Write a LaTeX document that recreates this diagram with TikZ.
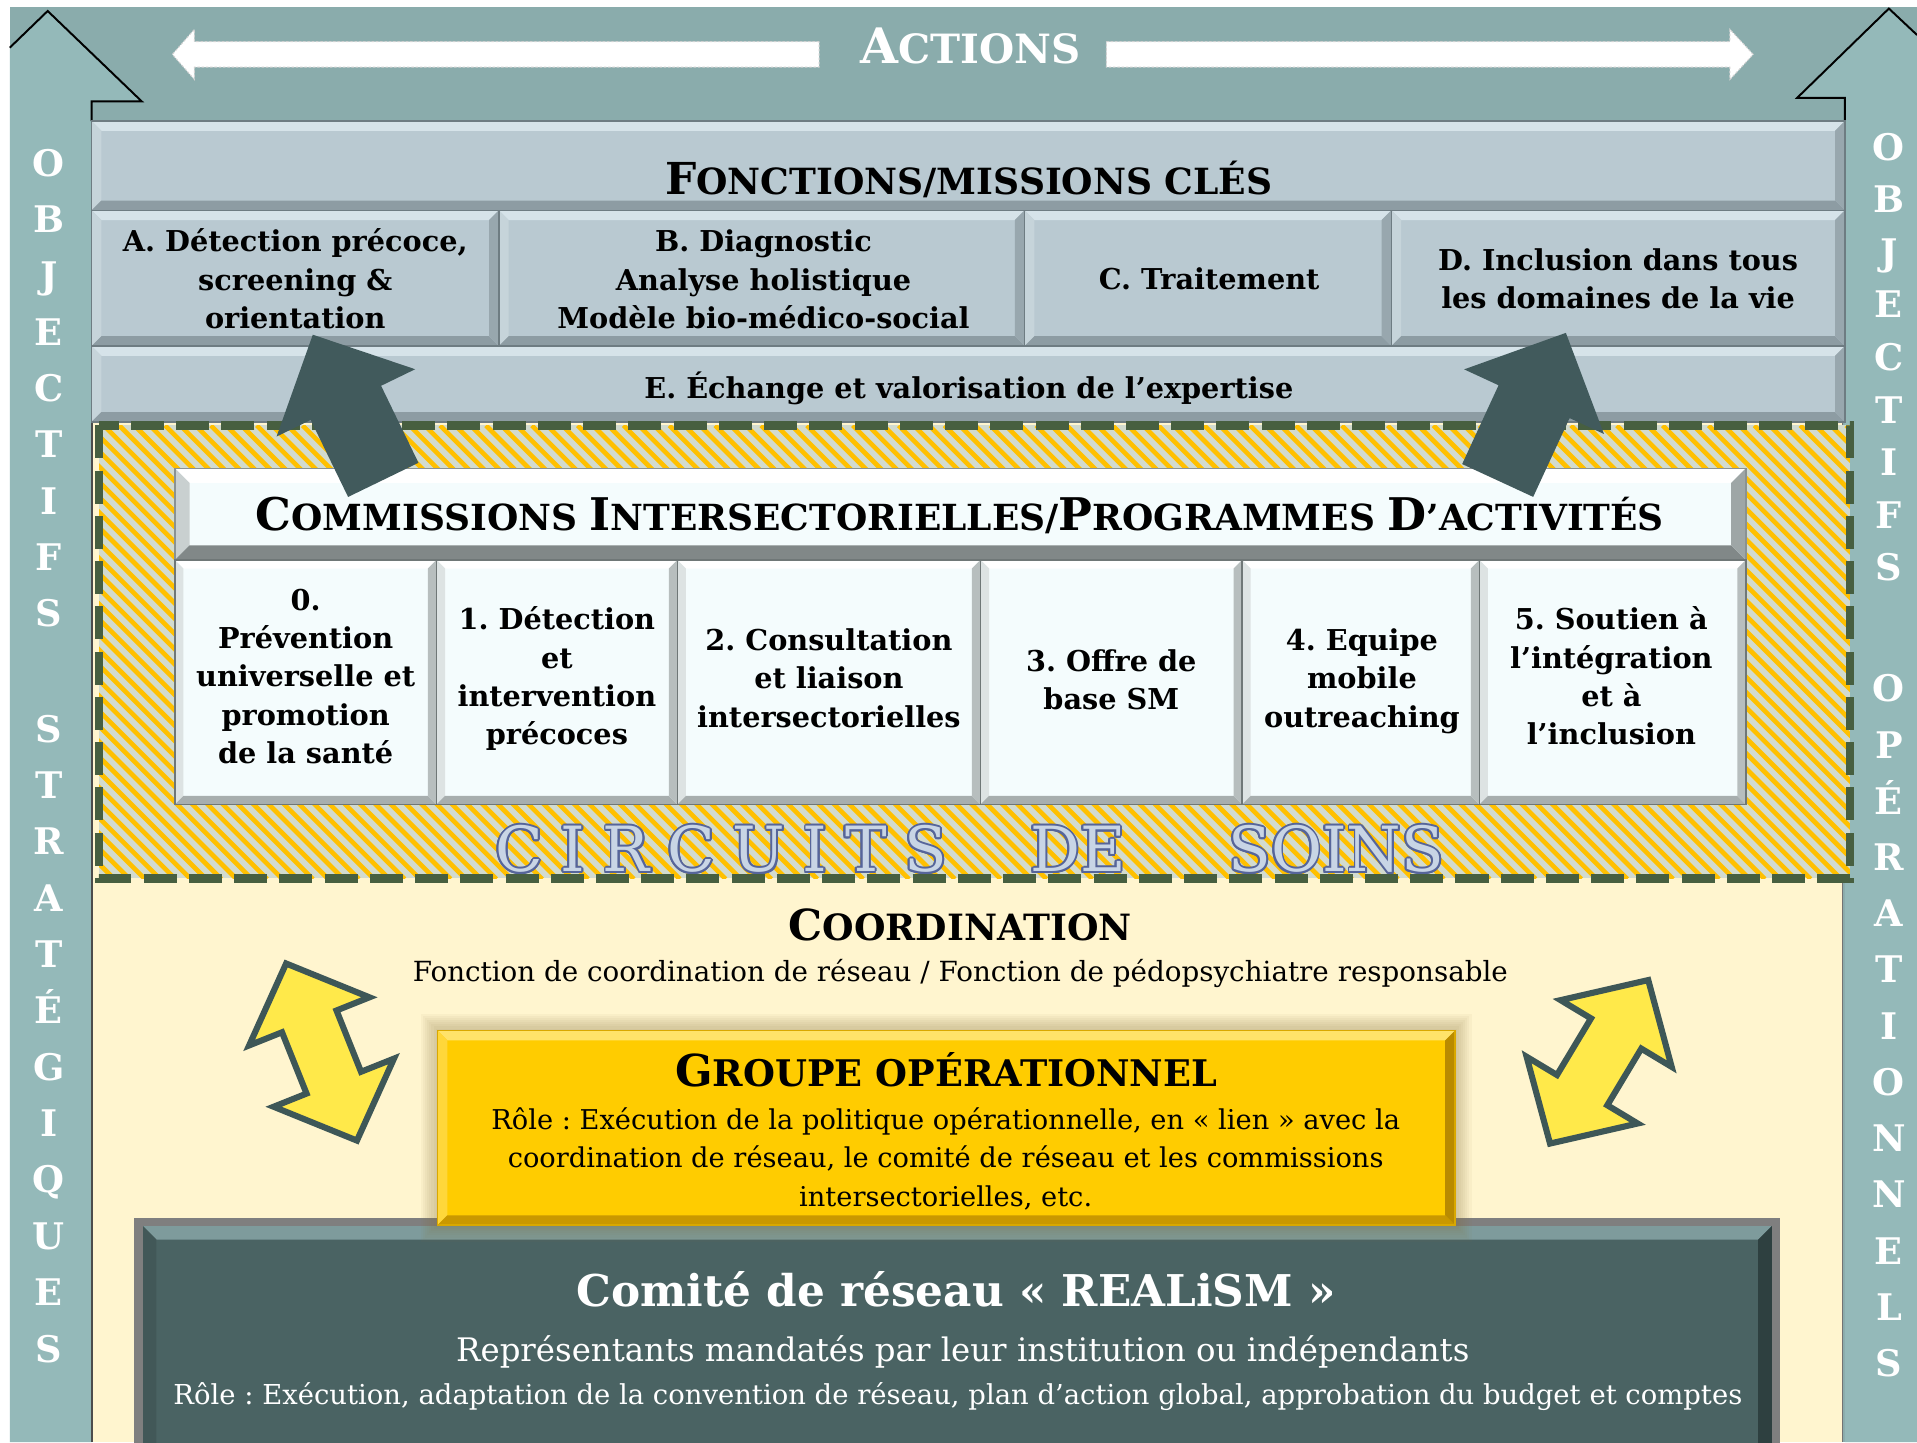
\documentclass[tikz,border=0pt]{standalone}
\usepackage{fontspec}
\setmainfont{DejaVu Serif}
\usepackage{contour}
\contourlength{1.5pt}
\usetikzlibrary{calc}
\frenchspacing

\definecolor{bandteal}{HTML}{8AACAC}
\definecolor{colteal}{HTML}{94B9B9}
\definecolor{fnbase}{HTML}{B9C9D1}
\definecolor{fntop}{HTML}{D6E3E9}
\definecolor{fnleft}{HTML}{C6D4DA}
\definecolor{fnbot}{HTML}{8D9CA3}
\definecolor{fnright}{HTML}{98A7AE}
\definecolor{fnedge}{HTML}{6E7C82}
\definecolor{chbase}{HTML}{F4FCFD}
\definecolor{chtop}{HTML}{FFFFFF}
\definecolor{chleft}{HTML}{C9D0D0}
\definecolor{chbot}{HTML}{818888}
\definecolor{chright}{HTML}{9EA6A6}
\definecolor{chedge}{HTML}{8A9292}
\definecolor{ccbase}{HTML}{F4FCFD}
\definecolor{cctop}{HTML}{FFFFFF}
\definecolor{ccleft}{HTML}{DDE3E3}
\definecolor{ccbot}{HTML}{A7AEAE}
\definecolor{ccright}{HTML}{B7BEBE}
\definecolor{ccedge}{HTML}{6F7777}
\definecolor{gdbase}{HTML}{FFCC00}
\definecolor{gdtop}{HTML}{FFE36A}
\definecolor{gdleft}{HTML}{FFD73A}
\definecolor{gdbot}{HTML}{C99800}
\definecolor{gdright}{HTML}{B98B00}
\definecolor{gdedge}{HTML}{D9A800}
\definecolor{cmbase}{HTML}{4A6363}
\definecolor{cmtop}{HTML}{7E9B9C}
\definecolor{cmleft}{HTML}{425858}
\definecolor{cmbot}{HTML}{344747}
\definecolor{cmright}{HTML}{2E4040}
\definecolor{cmedge}{HTML}{7F7F7F}
\definecolor{cream}{HTML}{FFF5CF}
\definecolor{stripeg}{HTML}{D2DBCF}
\definecolor{stripey}{HTML}{FFC000}
\definecolor{dashg}{HTML}{475F40}
\definecolor{darrow}{HTML}{415A5C}
\definecolor{yarrow}{HTML}{FFE94A}
\definecolor{yedge}{HTML}{3E5757}
\definecolor{circfill}{HTML}{C8D5E5}
\definecolor{circline}{HTML}{56659A}
\definecolor{shadowc}{HTML}{8A7440}

\newcommand\fsz[2]{\fontsize{#1}{#2}\selectfont}
\newcommand\scap[4]{{\fsz{#1}{#1}#2}{\fsz{#3}{#3}#4}}
\newcommand\mlines[1]{\begin{tabular}[t]{@{}c@{}}#1\end{tabular}}
\newcommand\lsp{\kern14.4pt }
\newcommand\bvbox[6]{%
 \fill[#6base] (#1,#2) rectangle (#3,#4);
 \fill[#6top] (#1,#2) -- (#3,#2) -- ({#3-#5},{#2+#5}) -- ({#1+#5},{#2+#5}) -- cycle;
 \fill[#6left] (#1,#2) -- ({#1+#5},{#2+#5}) -- ({#1+#5},{#4-#5}) -- (#1,#4) -- cycle;
 \fill[#6bot] (#1,#4) -- ({#1+#5},{#4-#5}) -- ({#3-#5},{#4-#5}) -- (#3,#4) -- cycle;
 \fill[#6right] (#3,#2) -- (#3,#4) -- ({#3-#5},{#4-#5}) -- ({#3-#5},{#2+#5}) -- cycle;
 \draw[#6edge, line width=1.2] (#1,#2) rectangle (#3,#4);}

\tikzset{
 tx/.style={inner sep=0pt, anchor=base},
 cell/.style={tx, font={\bfseries\fsz{23.5}{31.4}}},
 hdr/.style={tx, font=\bfseries},
 acts/.style={tx, font=\bfseries, text=white},
 regtxt/.style={tx, font={\fsz{22.7}{31.7}}},
 goldtxt/.style={tx, font={\fsz{22.3}{31.7}}},
 cmtitle/.style={tx, font={\bfseries\fsz{35.8}{40}}, text=white},
 cmrep/.style={tx, font={\fsz{26.5}{30}}, text=white},
 cmrole/.style={tx, font={\fsz{22.45}{26}}, text=white},
 colL/.style={tx, text=white, font={\bfseries\fsz{30}{46.1}}},
 colR/.style={tx, text=white, font={\bfseries\fsz{30}{43}}},
 circtxt/.style={inner sep=0pt, anchor=base west, text=circfill, font={\fsz{51}{55}}},
 darr/.style={fill=darrow},
 yarr/.style={fill=yarrow, draw=yedge, line width=5, line join=miter},
 whitearr/.style={fill=white, draw=white!82!black, line width=0.8, dash pattern=on 2pt off 1.5pt},
 colarr/.style={fill=colteal},
 coledge/.style={draw=black, line width=1.6, line join=miter},
}

\begin{document}
\begin{tikzpicture}[x=1pt,y=-1pt]
\useasboundingbox (0,0) rectangle (1568,1179.5);
\fill[white] (0,0) rectangle (1568,1179.5);
\fill[bandteal] (8,5.5) rectangle (1568,1179.5);

% side arrows
\fill[colarr] (8,1179.5) -- (8,39) -- (39,9) -- (116,83) -- (75,83) -- (75,1179.5) -- cycle;
\draw[coledge] (8,39) -- (39,9) -- (116,83) -- (75,83) -- (75,99);
\fill[colarr] (1509,1179.5) -- (1509,80) -- (1470,80) -- (1545,7) -- (1568,28.6) -- (1568,1179.5) -- cycle;
\draw[coledge] (1509,99) -- (1509,80) -- (1470,80) -- (1545,7) -- (1568,28.6);

% actions arrows
\filldraw[whitearr] (670,34) -- (159,34) -- (159,24) -- (141,44.5) -- (159,65) -- (159,55) -- (670,55) -- cycle;
\filldraw[whitearr] (905,34) -- (1415,34) -- (1415,24) -- (1434,44.5) -- (1415,65) -- (1415,55) -- (905,55) -- cycle;
\node[acts] (actions) at (793.5,51.8) {\scap{40}{A}{33}{CTIONS}};

% main panel
\fill[cream] (75,99) rectangle (1507,1179.5);
\draw[black!70, line width=1.5] (75,99) -- (75,1179.5);
\draw[black!55, line width=1.5] (1507,99) -- (1507,1179.5);

% fonctions
\bvbox{75}{99}{1509}{172}{8}{fn}
\bvbox{75}{172}{408}{283}{8}{fn}
\bvbox{408}{172}{838}{283}{8}{fn}
\bvbox{838}{172}{1138}{283}{8}{fn}
\bvbox{1138}{172}{1509}{283}{8}{fn}
\bvbox{75}{283}{1509}{345}{8}{fn}
\node[hdr] (fonctions) at (792.5,159.5) {\scap{36}{F}{29.5}{ONCTIONS/MISSIONS CLÉS}};
\node[cell] (fA) at (241.5,206) {\mlines{A. Détection précoce,\\ screening \&\\ orientation}};
\node[cell] (fB) at (624.5,206) {\mlines{B. Diagnostic\\ Analyse holistique\\ Modèle bio-médico-social}};
\node[cell] (fC) at (989,237) {C. Traitement};
\node[cell] (fD) at (1323.5,221) {\mlines{D. Inclusion dans tous\\ les domaines de la vie}};
\node[cell] (fE) at (792.5,326) {E. Échange et valorisation de l’expertise};

% circuits de soins region
\begin{scope}
\clip (81,348) rectangle (1513,718.5);
\fill[stripeg] (81,348) rectangle (1513,718.5);
\foreach \k in {0,...,146} {
  \draw[stripey, line width=3.8] ({81-371+\k*12.5},348) -- ++(371,371);
}
\end{scope}
\draw[dashg, line width=7, dash pattern=on 27pt off 10pt] (81,348) rectangle (1513,718.5);

% commissions
\bvbox{143}{383}{1428}{458}{12}{ch}
\bvbox{143}{458}{357}{658}{7}{cc}
\bvbox{357}{458}{554}{658}{7}{cc}
\bvbox{554}{458}{802}{658}{7}{cc}
\bvbox{802}{458}{1016}{658}{7}{cc}
\bvbox{1016}{458}{1210}{658}{7}{cc}
\bvbox{1210}{458}{1428}{658}{7}{cc}
\node[hdr] (cih) at (785,433.6) {\scap{36.8}{C}{29.4}{OMMISSIONS }\scap{36.8}{I}{29.4}{NTERSECTORIELLES/}\scap{36.8}{P}{29.4}{ROGRAMMES }\scap{36.8}{D}{29.4}{’ACTIVITÉS}};
\node[cell] (c0) at (250,499) {\mlines{0.\\ Prévention\\ universelle et\\ promotion\\ de la santé}};
\node[cell] (c1) at (455.5,515) {\mlines{1. Détection\\ et\\ intervention\\ précoces}};
\node[cell] (c2) at (678,532) {\mlines{2. Consultation\\ et liaison\\ intersectorielles}};
\node[cell] (c3) at (909,549) {\mlines{3. Offre de\\ base SM}};
\node[cell] (c4) at (1114,532) {\mlines{4. Equipe\\ mobile\\ outreaching}};
\node[cell] (c5) at (1318,515) {\mlines{5. Soutien à\\ l’intégration\\ et à\\ l’inclusion}};

\node[circtxt] (circ) at (405,713) {\contour{circline}{C\lsp I\lsp R\lsp C\lsp U\lsp I\lsp T\lsp S\hspace{68pt}DE\hspace{84pt}SOINS}};

% coordination
\node[hdr] (coord) at (785.5,769.6) {\scap{35}{C}{29.6}{OORDINATION}};
\node[regtxt] (coordsub) at (785.5,803) {Fonction de coordination de réseau / Fonction de pédopsychiatre responsable};

% yellow double arrows
\begin{scope}[shift={(263,860.5)}, rotate=111.8]
\filldraw[yarr] (78,0) -- (27,53) -- (27,24) -- (-27,24) -- (-27,53) -- (-78,0) -- (-27,-53) -- (-27,-24) -- (27,-24) -- (27,-53) -- cycle;
\end{scope}
\begin{scope}[shift={(1308,868.5)}, rotate=59]
\filldraw[yarr] (78,0) -- (27,53) -- (27,24) -- (-27,24) -- (-27,53) -- (-78,0) -- (-27,-53) -- (-27,-24) -- (27,-24) -- (27,-53) -- cycle;
\end{scope}

% comite
\fill[cmedge] (110,996) rectangle (1456,1200);
\bvbox{116}{1002}{1450}{1210}{12}{cm}
% gold box with shadow
\foreach \s in {1,...,8} {
  \fill[shadowc, opacity=0.05] ({358-\s*1.7},{843-\s*1.7}) rectangle ({1190+\s*1.7},{1002+\s*1.7});
}
\bvbox{358}{843}{1190}{1002}{8}{gd}
\node[hdr] (gtitle) at (774,889) {\scap{36}{G}{30}{ROUPE OPÉRATIONNEL}};
\node[goldtxt] (gtext) at (773.5,923.6) {\mlines{Rôle : Exécution de la politique opérationnelle, en « lien » avec la\\ coordination de réseau, le comité de réseau et les commissions\\ intersectorielles, etc.}};

\node[cmtitle] (ctitle) at (782,1068.6) {Comité de réseau « REALiSM »};
\node[cmrep] (crep) at (787.5,1114) {Représentants mandatés par leur institution ou indépendants};
\node[cmrole] (crole) at (783.5,1149) {Rôle : Exécution, adaptation de la convention de réseau, plan d’action global, approbation du budget et comptes};

% dark arrows
\begin{scope}[shift={(313.5,392.5)}, rotate=115.9]
\fill[darr] (0,-32) -- (70,-32) -- (70,-63) -- (132,0) -- (70,63) -- (70,32) -- (0,32) -- cycle;
\end{scope}
\begin{scope}[shift={(1225,393)}, rotate=65.2]
\fill[darr] (0,-32) -- (71,-32) -- (71,-63) -- (133,0) -- (71,63) -- (71,32) -- (0,32) -- cycle;
\end{scope}

% column texts
\node[colL] (objL) at (40,144) {\mlines{O\\B\\J\\E\\C\\T\\I\\F\\S}};
\node[colL] (strat) at (40,607) {\mlines{S\\T\\R\\A\\T\\É\\G\\I\\Q\\U\\E\\S}};
\node[colR] (objR) at (1545,131) {\mlines{O\\B\\J\\E\\C\\T\\I\\F\\S}};
\node[tx, text=white, font={\bfseries\fsz{30}{46}}] (oper) at (1545,574) {\mlines{O\\P\\É\\R\\A\\T\\I\\O\\N\\N\\E\\L\\S}};
\end{tikzpicture}
\end{document}
